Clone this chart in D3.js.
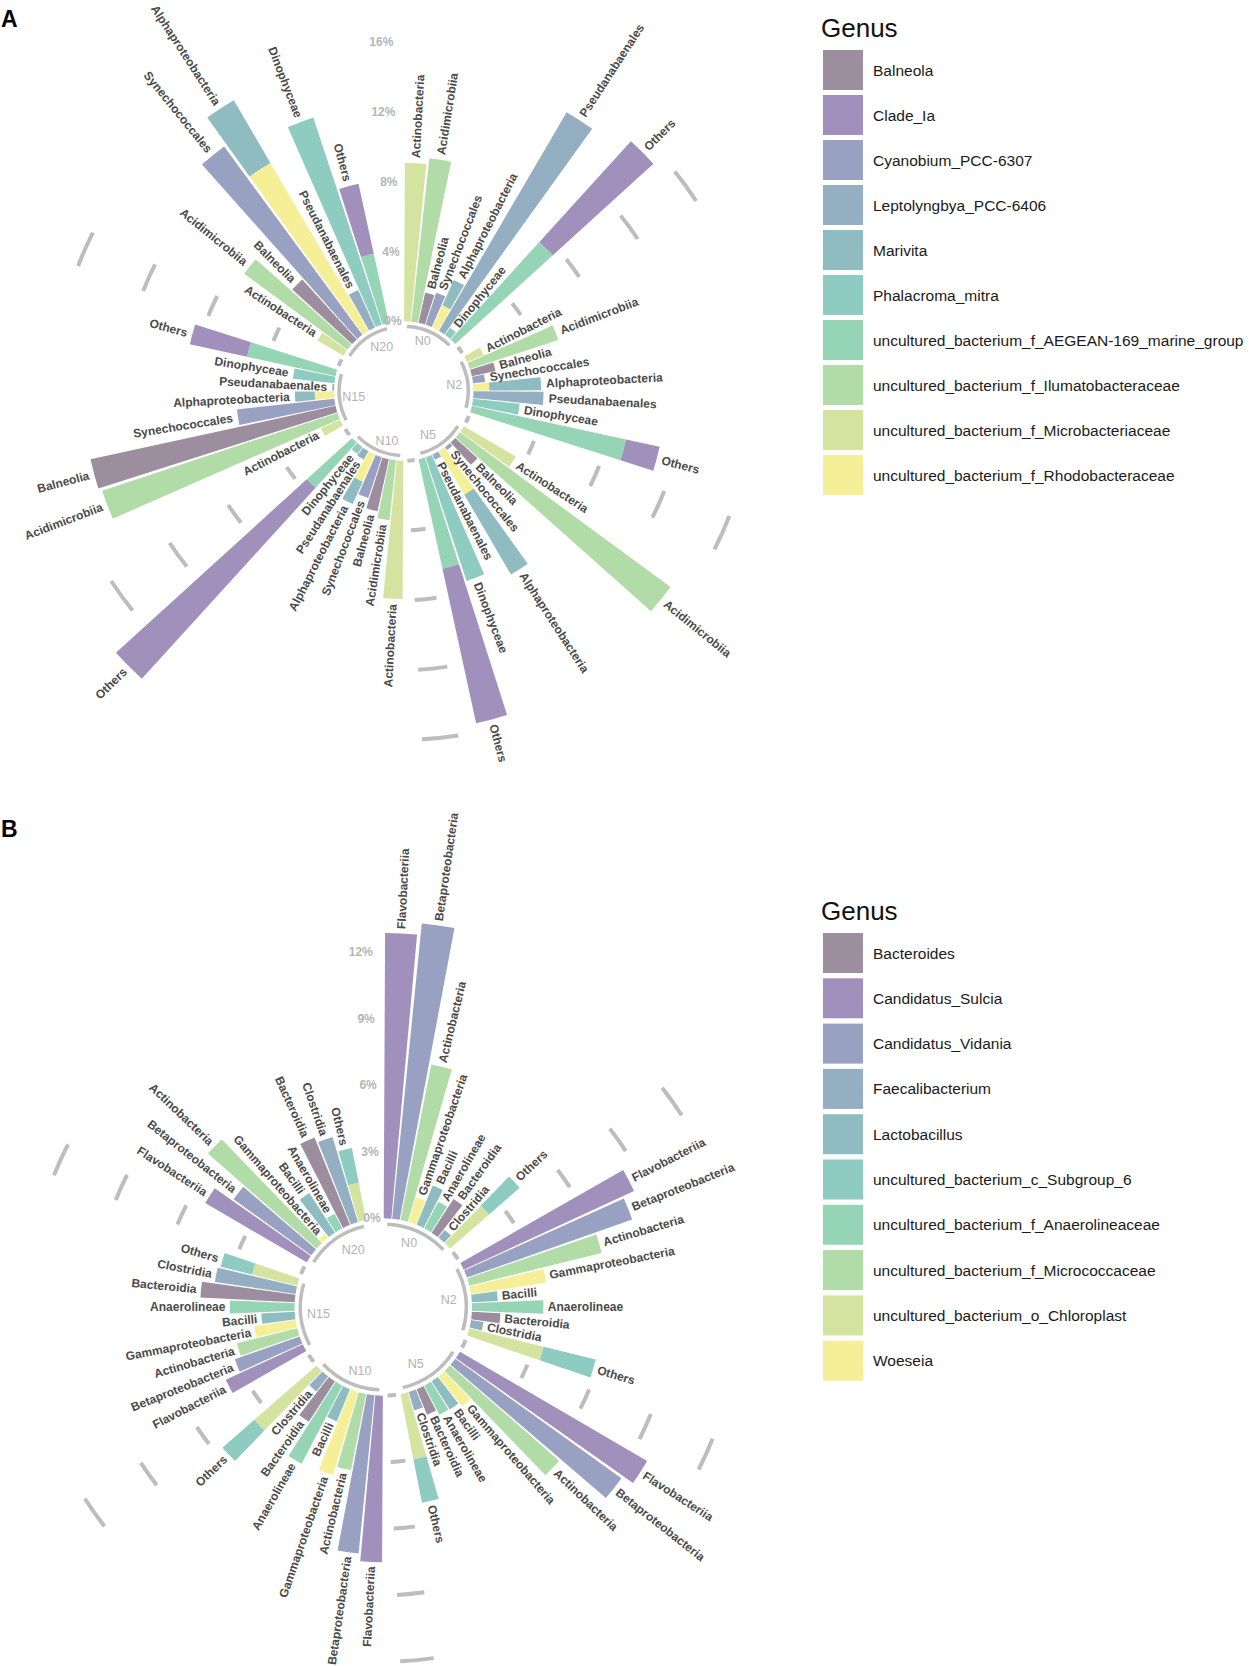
<!DOCTYPE html>
<html><head><meta charset="utf-8">
<script src="https://cdn.jsdelivr.net/npm/d3@7/dist/d3.min.js"></script>
<style>
body{margin:0;background:#fff}
svg{display:block}
text{font-family:"Liberation Sans",Arial,Helvetica,sans-serif}
</style>
</head><body>
<svg id="chart" width="1249" height="1666"></svg>
<script>
// ---------------- shared ----------------
const groups = ["N0","N2","N5","N10","N15","N20"];
const palette = ["#9c8e9f","#a290bc","#99a1c3","#94afc1","#8fbcc1","#8ecbc0","#95d4b5","#b2dca7","#d4e4a0","#f5ef97"];

// ---------------- Panel A ----------------
const classesA = ["Actinobacteria","Acidimicrobiia","Balneolia","Synechococcales","Alphaproteobacteria","Pseudanabaenales","Dinophyceae","Others"];
const generaA = ["Balneola","Clade_Ia","Cyanobium_PCC-6307","Leptolyngbya_PCC-6406","Marivita","Phalacroma_mitra",
  "uncultured_bacterium_f_AEGEAN-169_marine_group","uncultured_bacterium_f_Ilumatobacteraceae",
  "uncultured_bacterium_f_Microbacteriaceae","uncultured_bacterium_f_Rhodobacteraceae"];
// genera stacked in each class bar (inner -> outer)
const stackA = [
  ["uncultured_bacterium_f_Microbacteriaceae"],
  ["uncultured_bacterium_f_Ilumatobacteraceae"],
  ["Balneola"],
  ["Cyanobium_PCC-6307"],
  ["uncultured_bacterium_f_Rhodobacteraceae","Marivita"],
  ["Leptolyngbya_PCC-6406"],
  ["Phalacroma_mitra"],
  ["uncultured_bacterium_f_AEGEAN-169_marine_group","Clade_Ia"]
];
// relative abundance (%) per group N0,N2,N5,N10,N15,N20
const A_Microbacteriaceae = [9.08, 1.02, 3.45, 7.93, 1.20, 1.73];
const A_Ilumatobacteraceae = [9.42, 5.33, 14.99, 3.45, 14.21, 7.36];
const A_Balneola          = [1.77, 1.39, 1.72, 3.05, 14.38, 4.64];
const A_Cyanobium         = [1.93, 0.70, 0.20, 2.46, 5.62, 13.39];
const A_Rhodobacteraceae  = [1.40, 0.91, 2.89, 1.71, 1.10, 11.15];
const A_Marivita          = [1.58, 2.97, 5.30, 1.40, 1.14, 4.16];
const A_Leptolyngbya      = [14.52, 4.02, 0.33, 0.55, 0.10, 2.35];
const A_Phalacroma        = [0.50, 2.69, 7.48, 0.48, 2.39, 12.52];
const A_AEGEAN            = [7.56, 9.05, 6.43, 3.51, 5.19, 4.06];
const A_CladeIa           = [7.80, 1.97, 9.07, 14.80, 3.36, 4.10];
const ticksA = [0, 4, 8, 12, 16];

// ---------------- Panel B ----------------
const classesB = ["Flavobacteriia","Betaproteobacteria","Actinobacteria","Gammaproteobacteria","Bacilli","Anaerolineae","Bacteroidia","Clostridia","Others"];
const generaB = ["Bacteroides","Candidatus_Sulcia","Candidatus_Vidania","Faecalibacterium","Lactobacillus",
  "uncultured_bacterium_c_Subgroup_6","uncultured_bacterium_f_Anaerolineaceae","uncultured_bacterium_f_Micrococcaceae",
  "uncultured_bacterium_o_Chloroplast","Woeseia"];
const stackB = [
  ["Candidatus_Sulcia"],
  ["Candidatus_Vidania"],
  ["uncultured_bacterium_f_Micrococcaceae"],
  ["Woeseia"],
  ["Lactobacillus"],
  ["uncultured_bacterium_f_Anaerolineaceae"],
  ["Bacteroides"],
  ["Faecalibacterium"],
  ["uncultured_bacterium_o_Chloroplast","uncultured_bacterium_c_Subgroup_6"]
];
const B_Sulcia          = [12.87, 8.46, 9.78, 7.51, 3.83, 5.30];
const B_Vidania         = [13.39, 7.90, 9.23, 7.17, 3.10, 4.32];
const B_Micrococcaceae  = [7.15, 6.15, 6.54, 3.51, 2.80, 6.51];
const B_Woeseia         = [1.15, 3.43, 1.72, 3.91, 1.88, 0.21];
const B_Lactobacillus   = [1.92, 1.17, 1.51, 1.57, 1.51, 2.13];
const B_Anaerolineaceae = [1.36, 3.22, 1.48, 3.97, 2.92, 0.75];
const B_Bacteroides     = [1.81, 1.29, 1.24, 2.17, 4.26, 4.25];
const B_Faecalibacterium= [0.44, 0.57, 0.87, 0.86, 3.68, 4.00];
const B_Chloroplast     = [2.34, 3.45, 3.01, 3.73, 2.10, 1.72];
const B_Subgroup6       = [1.83, 2.42, 1.99, 1.91, 1.46, 1.59];
const ticksB = [0, 3, 6, 9, 12];

const seriesA = {
  "Balneola": A_Balneola, "Clade_Ia": A_CladeIa, "Cyanobium_PCC-6307": A_Cyanobium,
  "Leptolyngbya_PCC-6406": A_Leptolyngbya, "Marivita": A_Marivita, "Phalacroma_mitra": A_Phalacroma,
  "uncultured_bacterium_f_AEGEAN-169_marine_group": A_AEGEAN,
  "uncultured_bacterium_f_Ilumatobacteraceae": A_Ilumatobacteraceae,
  "uncultured_bacterium_f_Microbacteriaceae": A_Microbacteriaceae,
  "uncultured_bacterium_f_Rhodobacteraceae": A_Rhodobacteraceae
};
const seriesB = {
  "Bacteroides": B_Bacteroides, "Candidatus_Sulcia": B_Sulcia, "Candidatus_Vidania": B_Vidania,
  "Faecalibacterium": B_Faecalibacterium, "Lactobacillus": B_Lactobacillus,
  "uncultured_bacterium_c_Subgroup_6": B_Subgroup6, "uncultured_bacterium_f_Anaerolineaceae": B_Anaerolineaceae,
  "uncultured_bacterium_f_Micrococcaceae": B_Micrococcaceae, "uncultured_bacterium_o_Chloroplast": B_Chloroplast,
  "Woeseia": B_Woeseia
};

const svg = d3.select("#chart");
svg.append("rect").attr("width",1249).attr("height",1666).attr("fill","#fff");

const GRAY = "#bdbdbd";
const groupHjust = [0.7, 0.75, 1, 0.25, 0.3, 0.05];

function drawPanel(o) {
  const nPer = o.classes.length + 2;
  const nSlots = groups.length * nPer;
  const yMax = o.ticks[o.ticks.length - 1];
  const x = d3.scaleLinear().domain([0.5, nSlots + 0.5]).range([0, 2 * Math.PI]);
  const y = d3.scaleLinear().domain([-4, yMax]).range([0, o.px * (yMax + 4)]);
  const color = d3.scaleOrdinal().domain(o.genera).range(palette);
  const pt = (a, r) => [r * Math.sin(a), -r * Math.cos(a)];
  const g = svg.append("g").attr("transform", `translate(${o.cx},${o.cy})`);

  const bars = [];
  groups.forEach((grp, gi) => {
    o.classes.forEach((cls, ci) => {
      const id = gi * nPer + ci + 1;
      let acc = 0;
      const segs = o.stack[ci].map(gen => {
        const v = o.series[gen][gi];
        const s = { gen, y0: acc, y1: acc + v };
        acc += v;
        return s;
      });
      bars.push({ id, cls, gi, segs, tot: acc });
    });
  });

  const arc = d3.arc();
  const segData = bars.flatMap(b => b.segs.map(s => Object.assign({ id: b.id }, s)));
  g.append("g").selectAll("path").data(segData).join("path")
    .attr("d", d => arc({
      innerRadius: y(d.y0), outerRadius: y(d.y1),
      startAngle: x(d.id - 0.45), endAngle: x(d.id + 0.45)
    }))
    .attr("fill", d => color(d.gen));

  const gridG = g.append("g").attr("fill", "none").attr("stroke", GRAY).attr("stroke-width", 4);
  for (let gi = 0; gi < groups.length - 1; gi++) {
    const idA = gi * nPer + o.classes.length + 1;
    const idB = (gi + 1) * nPer;
    o.ticks.forEach(t => {
      const p = d3.path();
      const r = y(t);
      const a0 = x(idA), a1 = x(idB);
      const s = pt(a0, r);
      p.moveTo(s[0], s[1]);
      p.arc(0, 0, r, a0 - Math.PI / 2, a1 - Math.PI / 2);
      gridG.append("path").attr("d", p.toString());
    });
  }

  g.append("g").selectAll("text").data(o.ticks).join("text")
    .attr("x", t => pt(o.pctAngle, y(t))[0])
    .attr("y", t => pt(o.pctAngle, y(t))[1])
    .attr("text-anchor", "end").attr("dominant-baseline", "central")
    .attr("font-size", 12).attr("font-weight", "bold").attr("fill", "#b5b5b5")
    .text(t => t + "%");

  const ringG = g.append("g").attr("fill", "none").attr("stroke", GRAY).attr("stroke-width", 3.5);
  groups.forEach((grp, gi) => {
    const id0 = gi * nPer + 1, id1 = gi * nPer + o.classes.length;
    const r = y(o.ringY);
    const a0 = x(id0), a1 = x(id1);
    const p = d3.path();
    const s = pt(a0, r);
    p.moveTo(s[0], s[1]);
    p.arc(0, 0, r, a0 - Math.PI / 2, a1 - Math.PI / 2);
    ringG.append("path").attr("d", p.toString());
    const am = x((id0 + id1) / 2);
    const q = pt(am, y(o.groupLabelY));
    const tx = g.append("text").attr("y", q[1]).attr("dominant-baseline", "central")
      .attr("font-size", 12.5).attr("fill", "#b3b3b3").text(grp);
    const w = tx.node().getComputedTextLength();
    tx.attr("x", q[0] - groupHjust[gi] * w);
  });

  g.append("g").selectAll("text").data(bars).join("text")
    .attr("transform", d => {
      const a = x(d.id);
      const p = pt(a, y(d.tot + o.labelOff));
      const deg = a * 180 / Math.PI;
      const rot = deg <= 180 ? deg - 90 : deg - 270;
      return `translate(${p[0]},${p[1]}) rotate(${rot})`;
    })
    .attr("text-anchor", d => (x(d.id) * 180 / Math.PI) <= 180 ? "start" : "end")
    .attr("dominant-baseline", "central")
    .attr("font-size", 12).attr("font-weight", "bold").attr("fill", "#4a4a4a")
    .text(d => d.cls);

  const lg = svg.append("g").attr("transform", `translate(${o.legX},${o.legY})`);
  lg.append("text").attr("x", -2).attr("y", -13).attr("font-size", 26).attr("fill", "#111").text("Genus");
  const items = lg.selectAll("g.item").data(o.genera).join("g")
    .attr("transform", (d, i) => `translate(0,${i * o.legStep})`);
  items.append("rect").attr("width", 40).attr("height", 40).attr("fill", d => color(d));
  items.append("text").attr("x", 50).attr("y", 20).attr("dominant-baseline", "central")
    .attr("font-size", 15.5).attr("fill", "#1a1a1a").text(d => d);
}

drawPanel({ classes: classesA, genera: generaA, stack: stackA, series: seriesA, ticks: ticksA,
  cx: 403.7, cy: 391, px: 17.44, labelOff: 0.3, ringY: -0.3, groupLabelY: -0.85,
  pctAngle: -1.7 * Math.PI / 180, legX: 823, legY: 50, legStep: 45 });

drawPanel({ classes: classesB, genera: generaB, stack: stackB, series: seriesB, ticks: ticksB,
  cx: 383.3, cy: 1307, px: 22.17, labelOff: 0.2, ringY: -0.26, groupLabelY: -0.85,
  pctAngle: -1.7 * Math.PI / 180, legX: 823, legY: 933, legStep: 45.3 });

svg.append("text").attr("x", 1).attr("y", 27).attr("font-size", 23).attr("font-weight", "bold").attr("fill", "#000").text("A");
svg.append("text").attr("x", 1).attr("y", 837).attr("font-size", 23).attr("font-weight", "bold").attr("fill", "#000").text("B");
</script>
</body></html>
